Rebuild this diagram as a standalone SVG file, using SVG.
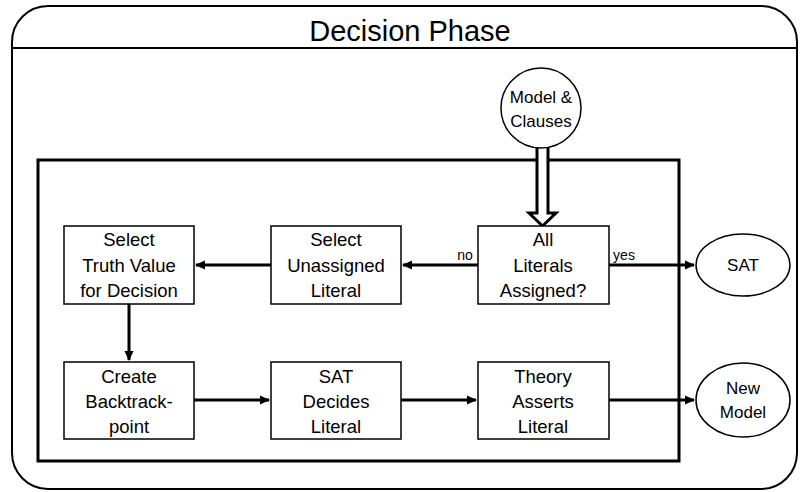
<svg xmlns="http://www.w3.org/2000/svg" width="800" height="492" viewBox="0 0 800 492">
<defs>
<style>
text{font-family:"Liberation Sans",Arial,sans-serif;fill:#000;text-anchor:middle}
.box{fill:#fff;stroke:#000;stroke-width:1.5}
.t{font-size:18.5px}
.c{font-size:17px}
.lbl{font-size:14px}
.ln{fill:none;stroke:#000;stroke-width:3}
</style>
<marker id="ah" markerWidth="10" markerHeight="10" refX="9" refY="5" orient="auto" markerUnits="userSpaceOnUse">
<path d="M0,0.5 L10,5 L0,9.5 Z" fill="#000"/>
</marker>
</defs>
<rect x="0" y="0" width="800" height="492" fill="#fff"/>
<g id="phase">
<rect x="12" y="6" width="785" height="483" rx="36" ry="36" fill="#fff" stroke="#000" stroke-width="2"/>
<line x1="12" y1="48" x2="797" y2="48" stroke="#000" stroke-width="2"/>
<text x="410" y="41" style="font-size:29px">Decision Phase</text>
</g>
<g id="frame">
<rect x="38" y="160" width="641" height="301" fill="none" stroke="#000" stroke-width="3"/>
</g>
<g id="connectors">
<line class="ln" x1="478" y1="265" x2="403" y2="265" marker-end="url(#ah)"/>
<line class="ln" x1="271" y1="265" x2="196" y2="265" marker-end="url(#ah)"/>
<line class="ln" x1="129" y1="304" x2="129" y2="360" marker-end="url(#ah)"/>
<line class="ln" x1="194" y1="400" x2="269" y2="400" marker-end="url(#ah)"/>
<line class="ln" x1="401" y1="400" x2="476" y2="400" marker-end="url(#ah)"/>
<line class="ln" x1="609" y1="400" x2="694" y2="400" marker-end="url(#ah)"/>
<line class="ln" x1="609" y1="265" x2="694" y2="265" marker-end="url(#ah)"/>
<path d="M537,148 L537,213 L529,213 L542.5,226 L556,213 L548,213 L548,148" fill="#fff" stroke="#000" stroke-width="3" stroke-linejoin="miter"/>
<text class="lbl" x="465" y="260">no</text>
<text class="lbl" x="624" y="260">yes</text>
</g>
<g id="model-clauses">
<circle cx="541" cy="108" r="40" class="box"/>
<text class="c" x="541" y="103">Model &amp;</text>
<text class="c" x="541" y="127">Clauses</text>
</g>
<g id="select-truth">
<rect x="64" y="226" width="130" height="78" class="box"/>
<text class="t" x="129" y="246">Select</text>
<text class="t" x="129" y="272">Truth Value</text>
<text class="t" x="129" y="297">for Decision</text>
</g>
<g id="select-unassigned">
<rect x="271" y="226" width="130" height="78" class="box"/>
<text class="t" x="336" y="246">Select</text>
<text class="t" x="336" y="272">Unassigned</text>
<text class="t" x="336" y="297">Literal</text>
</g>
<g id="all-assigned">
<rect x="478" y="226" width="131" height="78" class="box"/>
<text class="t" x="543" y="246">All</text>
<text class="t" x="543" y="272">Literals</text>
<text class="t" x="543" y="297">Assigned?</text>
</g>
<g id="sat">
<ellipse cx="743" cy="265" rx="47" ry="31" class="box"/>
<text class="c" x="743" y="271">SAT</text>
</g>
<g id="create-backtrack">
<rect x="64" y="362" width="130" height="77" class="box"/>
<text class="t" x="129" y="383">Create</text>
<text class="t" x="129" y="408">Backtrack-</text>
<text class="t" x="129" y="433">point</text>
</g>
<g id="sat-decides">
<rect x="271" y="362" width="130" height="77" class="box"/>
<text class="t" x="336" y="383">SAT</text>
<text class="t" x="336" y="408">Decides</text>
<text class="t" x="336" y="433">Literal</text>
</g>
<g id="theory-asserts">
<rect x="478" y="362" width="131" height="77" class="box"/>
<text class="t" x="543" y="383">Theory</text>
<text class="t" x="543" y="408">Asserts</text>
<text class="t" x="543" y="433">Literal</text>
</g>
<g id="new-model">
<ellipse cx="743" cy="400" rx="47" ry="37" class="box"/>
<text class="c" x="743" y="394">New</text>
<text class="c" x="743" y="418">Model</text>
</g>
</svg>
